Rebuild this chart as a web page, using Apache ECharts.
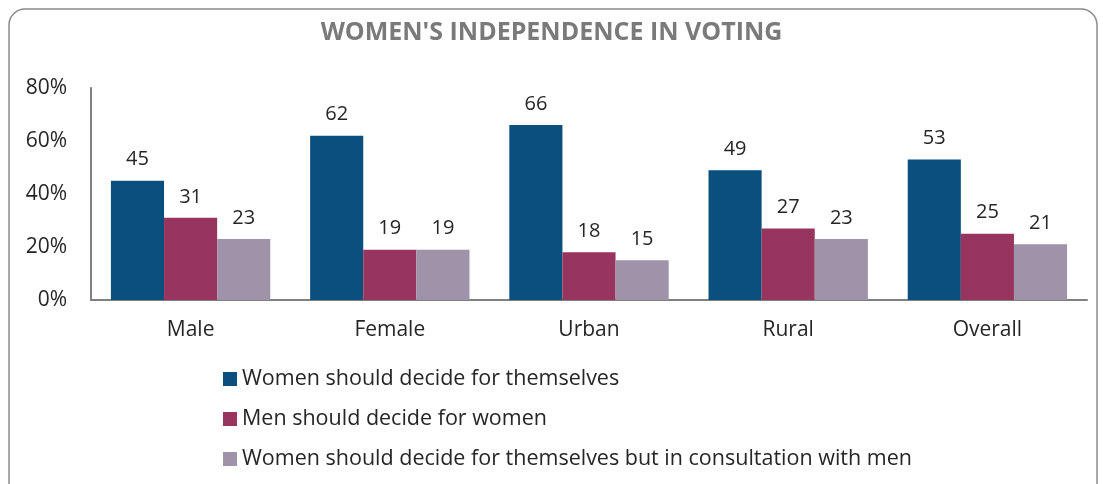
<!DOCTYPE html>
<html>
<head>
<meta charset="utf-8">
<script src="https://cdn.jsdelivr.net/npm/echarts@6/dist/echarts.min.js"></script>
<style>
  html, body { margin: 0; padding: 0; background: #fff; }
  #chart { width: 1103px; height: 484px; }
</style>
</head>
<body>
<div id="chart"></div>
<script>
  // categories and series values (percent)
  var categories = ['Male', 'Female', 'Urban', 'Rural', 'Overall'];
  var decideSelf = [45, 62, 66, 49, 53];
  var menDecide = [31, 19, 18, 27, 25];
  var consultMen = [23, 19, 15, 23, 21];
  var seriesNames = [
    'Women should decide for themselves',
    'Men should decide for women',
    'Women should decide for themselves but in consultation with men'
  ];

  var font = '"Open Sans", sans-serif';
  var myChart = echarts.init(document.getElementById('chart'));

  function bar(name, data, color) {
    return {
      name: name,
      type: 'bar',
      data: data,
      barGap: '0%',
      barCategoryGap: '20%',
      itemStyle: { color: color },
      label: {
        show: true,
        position: 'top',
        distance: 11,
        color: '#262626',
        fontFamily: font,
        fontSize: 20
      }
    };
  }

  myChart.setOption({
    animation: false,
    graphic: [{
      type: 'rect',
      shape: { x: 9, y: 9, width: 1088, height: 500, r: 16 },
      style: { fill: 'none', stroke: '#8a8a8a', lineWidth: 1.5 }
    }],
    title: {
      text: "WOMEN'S INDEPENDENCE IN VOTING",
      left: 'center',
      top: 15,
      textStyle: { color: '#7a7a7a', fontFamily: font, fontWeight: 'bold', fontSize: 25 }
    },
    legend: {
      orient: 'vertical',
      left: 218,
      top: 361,
      itemGap: 14,
      itemWidth: 14,
      itemHeight: 14,
      icon: 'rect',
      textStyle: { color: '#262626', fontFamily: font, fontSize: 21.5, lineHeight: 26 }
    },
    grid: {
      left: 91,
      right: 16,
      top: 88,
      bottom: 184
    },
    xAxis: {
      type: 'category',
      data: categories,
      axisLine: { lineStyle: { color: '#808080', width: 2 } },
      axisTick: { show: false },
      axisLabel: { color: '#262626', fontFamily: font, fontSize: 21, margin: 20 }
    },
    yAxis: {
      type: 'value',
      min: 0,
      max: 80,
      interval: 20,
      axisLine: { show: true, lineStyle: { color: '#808080', width: 2 } },
      axisTick: { show: false },
      splitLine: { show: false },
      axisLabel: {
        color: '#262626',
        fontFamily: font,
        fontSize: 21,
        margin: 24,
        formatter: '{value}%'
      }
    },
    series: [
      bar(seriesNames[0], decideSelf, '#0a4f7e'),
      bar(seriesNames[1], menDecide, '#97355e'),
      bar(seriesNames[2], consultMen, '#9e93a9')
    ]
  });
</script>
</body>
</html>
